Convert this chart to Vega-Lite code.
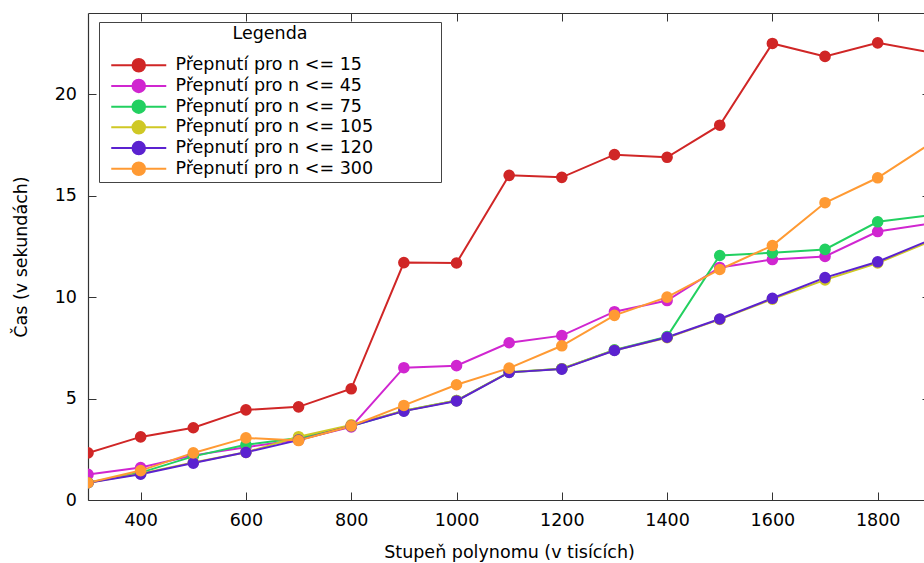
{
  "$schema": "https://vega.github.io/schema/vega-lite/v6.json",
  "width": 836,
  "height": 487,
  "autosize": {"type": "none"},
  "padding": {"left": 88, "top": 13, "right": 0, "bottom": 63},
  "background": "white",
  "config": {
    "view": {"stroke": null},
    "font": "DejaVu Sans",
    "axis": {
      "labelFont": "DejaVu Sans",
      "labelFontSize": 17.5,
      "labelColor": "black",
      "titleFont": "DejaVu Sans",
      "titleFontSize": 17.5,
      "titleFontWeight": "normal",
      "titleColor": "black",
      "domainColor": "#333333",
      "domainWidth": 1.2,
      "tickColor": "#333333",
      "tickWidth": 1,
      "tickSize": -8,
      "grid": false
    },
    "legend": {
      "labelFont": "DejaVu Sans",
      "labelFontSize": 17.5,
      "labelColor": "black",
      "labelLimit": 0,
      "titleFont": "DejaVu Sans",
      "titleFontSize": 17.5,
      "titleFontWeight": "normal",
      "titleColor": "black",
      "titleAnchor": "middle",
      "titlePadding": 14,
      "symbolType": "M-5.5,0H5.5M1.25,0A1.25,1.25,0,1,1,-1.25,0A1.25,1.25,0,1,1,1.25,0Z",
      "symbolSize": 100,
      "symbolStrokeWidth": 2,
      "symbolOffset": 28,
      "labelOffset": 28,
      "rowPadding": -0.3,
      "padding": 3,
      "strokeColor": "#444444",
      "fillColor": "white"
    }
  },
  "data": {
    "values": [
      {"s": "Přepnutí pro n <= 15", "x": 300, "t": 2.32},
      {"s": "Přepnutí pro n <= 15", "x": 400, "t": 3.11},
      {"s": "Přepnutí pro n <= 15", "x": 500, "t": 3.56},
      {"s": "Přepnutí pro n <= 15", "x": 600, "t": 4.44},
      {"s": "Přepnutí pro n <= 15", "x": 700, "t": 4.59},
      {"s": "Přepnutí pro n <= 15", "x": 800, "t": 5.48},
      {"s": "Přepnutí pro n <= 15", "x": 900, "t": 11.7},
      {"s": "Přepnutí pro n <= 15", "x": 1000, "t": 11.68},
      {"s": "Přepnutí pro n <= 15", "x": 1100, "t": 16.0},
      {"s": "Přepnutí pro n <= 15", "x": 1200, "t": 15.9},
      {"s": "Přepnutí pro n <= 15", "x": 1300, "t": 17.02},
      {"s": "Přepnutí pro n <= 15", "x": 1400, "t": 16.89},
      {"s": "Přepnutí pro n <= 15", "x": 1500, "t": 18.47},
      {"s": "Přepnutí pro n <= 15", "x": 1600, "t": 22.5},
      {"s": "Přepnutí pro n <= 15", "x": 1700, "t": 21.86},
      {"s": "Přepnutí pro n <= 15", "x": 1800, "t": 22.53},
      {"s": "Přepnutí pro n <= 15", "x": 1900, "t": 22.06},
      {"s": "Přepnutí pro n <= 45", "x": 300, "t": 1.26},
      {"s": "Přepnutí pro n <= 45", "x": 400, "t": 1.6},
      {"s": "Přepnutí pro n <= 45", "x": 500, "t": 2.2},
      {"s": "Přepnutí pro n <= 45", "x": 600, "t": 2.6},
      {"s": "Přepnutí pro n <= 45", "x": 700, "t": 2.97},
      {"s": "Přepnutí pro n <= 45", "x": 800, "t": 3.6},
      {"s": "Přepnutí pro n <= 45", "x": 900, "t": 6.52},
      {"s": "Přepnutí pro n <= 45", "x": 1000, "t": 6.62},
      {"s": "Přepnutí pro n <= 45", "x": 1100, "t": 7.75},
      {"s": "Přepnutí pro n <= 45", "x": 1200, "t": 8.1},
      {"s": "Přepnutí pro n <= 45", "x": 1300, "t": 9.28},
      {"s": "Přepnutí pro n <= 45", "x": 1400, "t": 9.83},
      {"s": "Přepnutí pro n <= 45", "x": 1500, "t": 11.46},
      {"s": "Přepnutí pro n <= 45", "x": 1600, "t": 11.85},
      {"s": "Přepnutí pro n <= 45", "x": 1700, "t": 12.0},
      {"s": "Přepnutí pro n <= 45", "x": 1800, "t": 13.23},
      {"s": "Přepnutí pro n <= 45", "x": 1900, "t": 13.63},
      {"s": "Přepnutí pro n <= 75", "x": 300, "t": 0.85},
      {"s": "Přepnutí pro n <= 75", "x": 400, "t": 1.35},
      {"s": "Přepnutí pro n <= 75", "x": 500, "t": 2.15},
      {"s": "Přepnutí pro n <= 75", "x": 600, "t": 2.72},
      {"s": "Přepnutí pro n <= 75", "x": 700, "t": 3.05},
      {"s": "Přepnutí pro n <= 75", "x": 800, "t": 3.65},
      {"s": "Přepnutí pro n <= 75", "x": 900, "t": 4.4},
      {"s": "Přepnutí pro n <= 75", "x": 1000, "t": 4.9},
      {"s": "Přepnutí pro n <= 75", "x": 1100, "t": 6.3},
      {"s": "Přepnutí pro n <= 75", "x": 1200, "t": 6.47},
      {"s": "Přepnutí pro n <= 75", "x": 1300, "t": 7.4},
      {"s": "Přepnutí pro n <= 75", "x": 1400, "t": 8.05},
      {"s": "Přepnutí pro n <= 75", "x": 1500, "t": 12.05},
      {"s": "Přepnutí pro n <= 75", "x": 1600, "t": 12.18},
      {"s": "Přepnutí pro n <= 75", "x": 1700, "t": 12.35},
      {"s": "Přepnutí pro n <= 75", "x": 1800, "t": 13.71},
      {"s": "Přepnutí pro n <= 75", "x": 1900, "t": 14.03},
      {"s": "Přepnutí pro n <= 105", "x": 300, "t": 0.85},
      {"s": "Přepnutí pro n <= 105", "x": 400, "t": 1.3},
      {"s": "Přepnutí pro n <= 105", "x": 500, "t": 1.85},
      {"s": "Přepnutí pro n <= 105", "x": 600, "t": 2.35},
      {"s": "Přepnutí pro n <= 105", "x": 700, "t": 3.12},
      {"s": "Přepnutí pro n <= 105", "x": 800, "t": 3.7},
      {"s": "Přepnutí pro n <= 105", "x": 900, "t": 4.4},
      {"s": "Přepnutí pro n <= 105", "x": 1000, "t": 4.9},
      {"s": "Přepnutí pro n <= 105", "x": 1100, "t": 6.3},
      {"s": "Přepnutí pro n <= 105", "x": 1200, "t": 6.47},
      {"s": "Přepnutí pro n <= 105", "x": 1300, "t": 7.38},
      {"s": "Přepnutí pro n <= 105", "x": 1400, "t": 8.0},
      {"s": "Přepnutí pro n <= 105", "x": 1500, "t": 8.9},
      {"s": "Přepnutí pro n <= 105", "x": 1600, "t": 9.9},
      {"s": "Přepnutí pro n <= 105", "x": 1700, "t": 10.85},
      {"s": "Přepnutí pro n <= 105", "x": 1800, "t": 11.68},
      {"s": "Přepnutí pro n <= 105", "x": 1900, "t": 12.75},
      {"s": "Přepnutí pro n <= 120", "x": 300, "t": 0.85},
      {"s": "Přepnutí pro n <= 120", "x": 400, "t": 1.27},
      {"s": "Přepnutí pro n <= 120", "x": 500, "t": 1.82},
      {"s": "Přepnutí pro n <= 120", "x": 600, "t": 2.35},
      {"s": "Přepnutí pro n <= 120", "x": 700, "t": 2.95},
      {"s": "Přepnutí pro n <= 120", "x": 800, "t": 3.65},
      {"s": "Přepnutí pro n <= 120", "x": 900, "t": 4.38},
      {"s": "Přepnutí pro n <= 120", "x": 1000, "t": 4.88},
      {"s": "Přepnutí pro n <= 120", "x": 1100, "t": 6.29},
      {"s": "Přepnutí pro n <= 120", "x": 1200, "t": 6.45},
      {"s": "Přepnutí pro n <= 120", "x": 1300, "t": 7.37},
      {"s": "Přepnutí pro n <= 120", "x": 1400, "t": 8.02},
      {"s": "Přepnutí pro n <= 120", "x": 1500, "t": 8.92},
      {"s": "Přepnutí pro n <= 120", "x": 1600, "t": 9.94},
      {"s": "Přepnutí pro n <= 120", "x": 1700, "t": 10.96},
      {"s": "Přepnutí pro n <= 120", "x": 1800, "t": 11.74},
      {"s": "Přepnutí pro n <= 120", "x": 1900, "t": 12.82},
      {"s": "Přepnutí pro n <= 300", "x": 300, "t": 0.85},
      {"s": "Přepnutí pro n <= 300", "x": 400, "t": 1.45},
      {"s": "Přepnutí pro n <= 300", "x": 500, "t": 2.32},
      {"s": "Přepnutí pro n <= 300", "x": 600, "t": 3.06},
      {"s": "Přepnutí pro n <= 300", "x": 700, "t": 2.93},
      {"s": "Přepnutí pro n <= 300", "x": 800, "t": 3.65},
      {"s": "Přepnutí pro n <= 300", "x": 900, "t": 4.66},
      {"s": "Přepnutí pro n <= 300", "x": 1000, "t": 5.68},
      {"s": "Přepnutí pro n <= 300", "x": 1100, "t": 6.5},
      {"s": "Přepnutí pro n <= 300", "x": 1200, "t": 7.6},
      {"s": "Přepnutí pro n <= 300", "x": 1300, "t": 9.1},
      {"s": "Přepnutí pro n <= 300", "x": 1400, "t": 10.0},
      {"s": "Přepnutí pro n <= 300", "x": 1500, "t": 11.36},
      {"s": "Přepnutí pro n <= 300", "x": 1600, "t": 12.54},
      {"s": "Přepnutí pro n <= 300", "x": 1700, "t": 14.65},
      {"s": "Přepnutí pro n <= 300", "x": 1800, "t": 15.88},
      {"s": "Přepnutí pro n <= 300", "x": 1900, "t": 17.56}
    ]
  },
  "layer": [
    {
      "mark": {"type": "line", "strokeWidth": 2, "clip": true},
      "encoding": {
        "x": {
          "field": "x", "type": "quantitative",
          "scale": {"domain": [300, 1888], "nice": false, "zero": false},
          "axis": {
            "orient": "bottom",
            "values": [400, 600, 800, 1000, 1200, 1400, 1600, 1800],
            "format": "d",
            "labelPadding": 19.5,
            "title": "Stupeň polynomu (v tisících)",
            "titlePadding": 14,
            "titleX": 421
          }
        },
        "y": {
          "field": "t", "type": "quantitative",
          "scale": {"domain": [0, 24], "nice": false},
          "axis": {
            "orient": "left",
            "values": [0, 5, 10, 15, 20],
            "labelPadding": 19.5,
            "title": "Čas (v sekundách)",
            "titlePadding": 24
          }
        },
        "color": {
          "field": "s", "type": "nominal",
          "scale": {
            "domain": ["Přepnutí pro n <= 15", "Přepnutí pro n <= 45", "Přepnutí pro n <= 75", "Přepnutí pro n <= 105", "Přepnutí pro n <= 120", "Přepnutí pro n <= 300"],
            "range": ["#d02626", "#d026d0", "#22d060", "#cfc825", "#5b22d0", "#ff9a33"]
          },
          "legend": {
            "title": "Legenda",
            "orient": "none",
            "legendX": 11,
            "legendY": 9,
            "labelExpr": "datum.label + '\u2800\u2800\u2800\u2800\u2800'",
            "encode": {
              "symbols": {
                "update": {
                  "fill": {"scale": "color", "field": "value"},
                  "stroke": {"scale": "color", "field": "value"},
                  "opacity": {"value": 1}
                }
              }
            }
          }
        }
      }
    },
    {
      "mark": {"type": "circle", "size": 135, "opacity": 1, "clip": true},
      "encoding": {
        "x": {
          "field": "x", "type": "quantitative",
          "axis": {
            "orient": "top",
            "values": [400, 600, 800, 1000, 1200, 1400, 1600, 1800],
            "labels": false,
            "title": null
          }
        },
        "y": {
          "field": "t", "type": "quantitative",
          "axis": {
            "orient": "right",
            "values": [0, 5, 10, 15, 20],
            "labels": false,
            "domain": false,
            "tickSize": -2,
            "title": null
          }
        },
        "color": {"field": "s", "type": "nominal"}
      }
    }
  ]
}
